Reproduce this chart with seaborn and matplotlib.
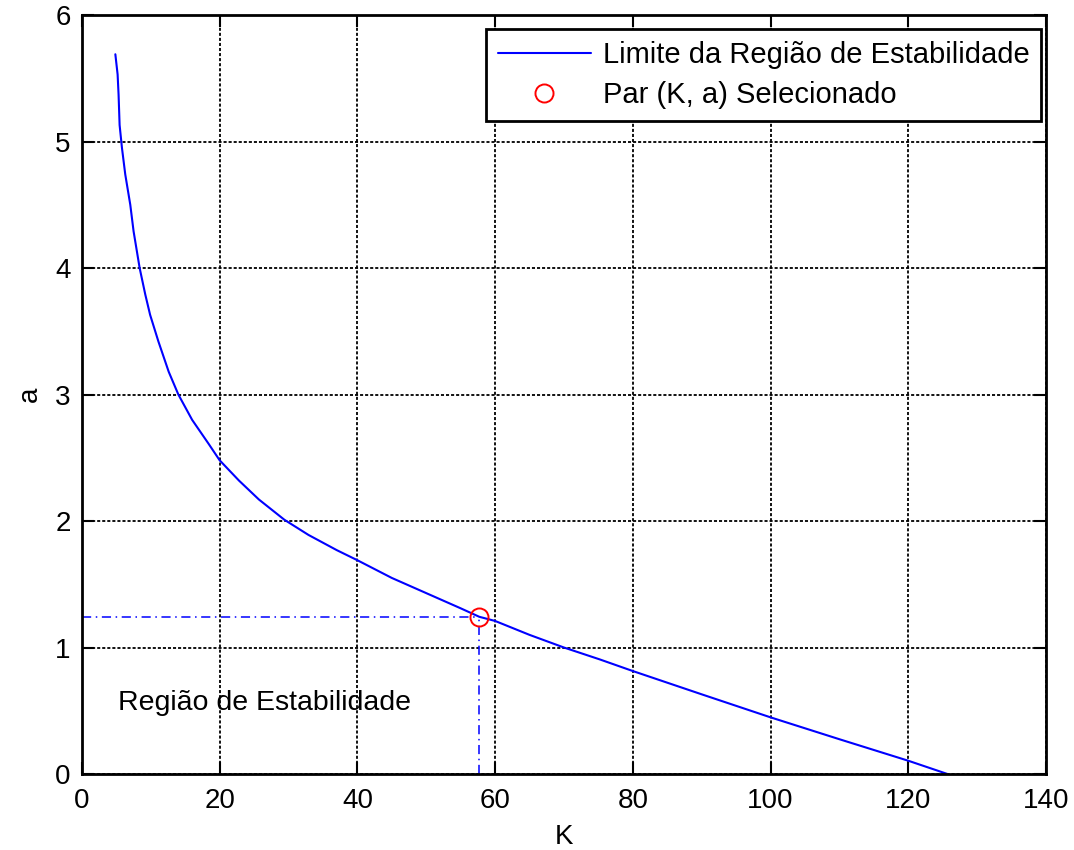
import matplotlib
matplotlib.use("Agg")
import matplotlib.pyplot as plt
import seaborn as sns
import pandas as pd

# Stability boundary curve
k_values = [4.85, 5.18, 5.32, 5.47, 5.81, 6.29, 7.02, 7.50, 8.38, 9.2, 9.9, 11.1, 12.6, 14.0,
            16.0, 18.4, 20.0, 22.8, 25.7, 29.4, 32.9, 37.0, 40.0, 45.0, 50.0, 55.0, 57.7,
            60.0, 65.0, 70.0, 75.2, 80.0, 90.0, 100.0, 110.0, 120.0, 125.7]
a_values = [5.69, 5.53, 5.37, 5.13, 4.95, 4.74, 4.50, 4.29, 4.00, 3.79, 3.63, 3.42, 3.18, 3.00,
            2.80, 2.61, 2.48, 2.32, 2.17, 2.01, 1.89, 1.77, 1.69, 1.55, 1.43, 1.31, 1.243,
            1.21, 1.10, 1.00, 0.906, 0.814, 0.63, 0.448, 0.275, 0.105, 0.0]

# Selected pair
k_sel = [57.7]
a_sel = [1.243]

x_ticks = [0, 20, 40, 60, 80, 100, 120, 140]
y_ticks = [0, 1, 2, 3, 4, 5, 6]

sns.set_style("white")
plt.rcParams['font.family'] = ['Liberation Sans', 'DejaVu Sans']
plt.rcParams['text.color'] = 'black'
plt.rcParams['axes.labelcolor'] = 'black'
plt.rcParams['xtick.color'] = 'black'
plt.rcParams['ytick.color'] = 'black'

fig = plt.figure(figsize=(10.74, 8.5), dpi=100)
ax = fig.add_axes([0.0763, 0.0894, 0.8976, 0.8929])

df = pd.DataFrame({"K": k_values, "a": a_values})
sns.lineplot(data=df, x="K", y="a", ax=ax, color="#0000ff", linewidth=1.5,
             label="Limite da Região de Estabilidade", sort=False)

# dash-dot guide lines
dashdot = (0, (6, 3, 1, 3))
ax.plot([0, k_sel[0]], [a_sel[0], a_sel[0]], color="#0000ff", linestyle=dashdot, linewidth=1.1)
ax.plot([k_sel[0], k_sel[0]], [0, a_sel[0]], color="#0000ff", linestyle=dashdot, linewidth=1.1)

ax.plot(k_sel, a_sel, linestyle="none", marker="o", markersize=13, markerfacecolor="none",
        markeredgecolor="#ff0000", markeredgewidth=1.4, label="Par (K, a) Selecionado")

ax.text(5.2, 0.56, "Região de Estabilidade", fontsize=20.5, ha="left", va="center", color="black")

ax.set_xlim(0, 140)
ax.set_ylim(0, 6)
ax.set_xticks(x_ticks)
ax.set_yticks(y_ticks)
ax.tick_params(axis="both", labelsize=20, direction="in", length=8.5, width=1.5,
               top=True, right=True, bottom=True, left=True, colors="black")
ax.tick_params(axis="x", pad=10)
ax.tick_params(axis="y", pad=8)
ax.grid(True, color="black", linestyle=(0, (1.7, 1.1)), linewidth=1.3)
ax.set_axisbelow(True)
for s in ax.spines.values():
    s.set_visible(True)
    s.set_color("black")
    s.set_linewidth(2)

ax.set_xlabel("K", fontsize=20, labelpad=7, color="black")
ax.set_ylabel("a", fontsize=20, labelpad=9, color="black")

leg = ax.legend(loc="upper right", bbox_to_anchor=(0.995, 0.981), fontsize=21, frameon=True,
                fancybox=False, edgecolor="black", framealpha=1, handlelength=3.2,
                borderaxespad=0, borderpad=0.4, labelspacing=0.42, handletextpad=0.4)
leg.get_frame().set_linewidth(2)
for t in leg.get_texts():
    t.set_color("black")

fig.savefig("out.png", dpi=100)
